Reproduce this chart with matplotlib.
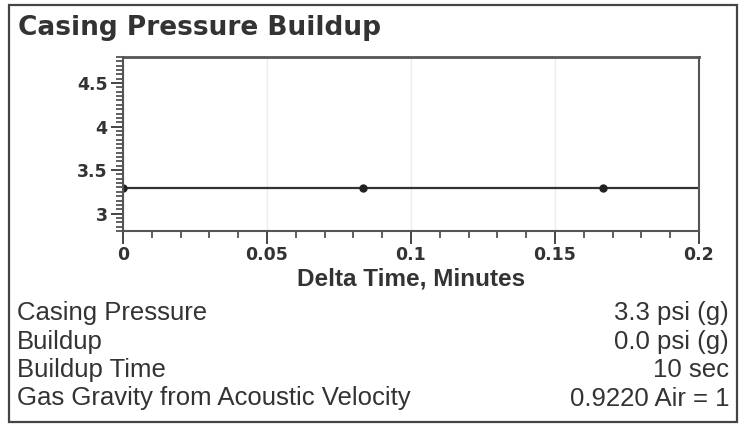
import matplotlib.pyplot as plt
import numpy as np
from matplotlib.patches import Rectangle
from matplotlib.ticker import FixedLocator, MultipleLocator

# data
delta_min = [0.0, 0.0833, 0.1667]
pressure = [3.3, 3.3, 3.3]

x_ticks = [0, 0.05, 0.1, 0.15, 0.2]
x_labels = ['0', '0.05', '0.1', '0.15', '0.2']
y_ticks = [3, 3.5, 4, 4.5]
y_labels = ['3', '3.5', '4', '4.5']

info_names = ['Casing Pressure', 'Buildup', 'Buildup Time',
              'Gas Gravity from Acoustic Velocity']
info_values = ['3.3 psi (g)', '0.0 psi (g)', '10 sec', '0.9220 Air = 1']

W, H = 744, 424
dark = '#333333'

fig = plt.figure(figsize=(W / 100, H / 100), dpi=100)
fig.patch.set_facecolor('white')

# outer frame
fig.patches.append(Rectangle((9 / W, 2 / H), 728 / W, 417 / H,
                             transform=fig.transFigure, fill=False,
                             edgecolor='#444444', linewidth=1.6))

fig.text(18 / W, 1 - 35 / H, 'Casing Pressure Buildup', fontsize=19,
         fontweight='bold', family='DejaVu Sans', color=dark, va='baseline')

ax = fig.add_axes([123 / W, 1 - 231 / H, 576 / W, 174 / H])
ax.set_xlim(0, 0.2)
ax.set_ylim(2.8, 4.8)

# last reading carried across to the end of the axis, points on top
xs = np.array(ax.get_xlim())
ax.plot(xs, [pressure[-1]] * 2, color=dark, linewidth=1.6)
ax.plot(delta_min, pressure, 'o', color='#222222', markersize=5)

ax.xaxis.set_major_locator(FixedLocator(x_ticks))
ax.set_xticklabels(x_labels)
ax.xaxis.set_minor_locator(MultipleLocator(0.01))
ax.yaxis.set_major_locator(FixedLocator(y_ticks))
ax.set_yticklabels(y_labels)
ax.yaxis.set_minor_locator(MultipleLocator(0.05))

ax.grid(axis='x', which='major', color='#ececec', linewidth=1)
ax.tick_params(which='major', length=9, width=1.4, color='#444444',
               labelsize=12.5, labelcolor=dark)
ax.tick_params(which='minor', length=5, width=1.2, color='#444444')
ax.tick_params(axis='x', pad=2)
ax.tick_params(axis='y', pad=2)
for lab in ax.get_xticklabels() + ax.get_yticklabels():
    lab.set_fontweight('bold')
    lab.set_family('DejaVu Sans')

for s in ax.spines.values():
    s.set_color('#555555')
    s.set_linewidth(1.5)
ax.spines['top'].set_linewidth(2)

ax.set_xlabel('Delta Time, Minutes', fontsize=17.5, fontweight='bold',
              family='Liberation Sans', color=dark, va='center')
ax.xaxis.set_label_coords(0.5, -0.275)

rows_y = [313, 341.5, 370, 398.5]
for name, val, y in zip(info_names, info_values, rows_y):
    fig.text(17 / W, 1 - y / H, name, fontsize=18.5, family='Liberation Sans',
             color=dark, va='center', ha='left')
    fig.text(729 / W, 1 - y / H, val, fontsize=18.5, family='Liberation Sans',
             color=dark, va='center', ha='right')

fig.savefig('out.png', dpi=100)
